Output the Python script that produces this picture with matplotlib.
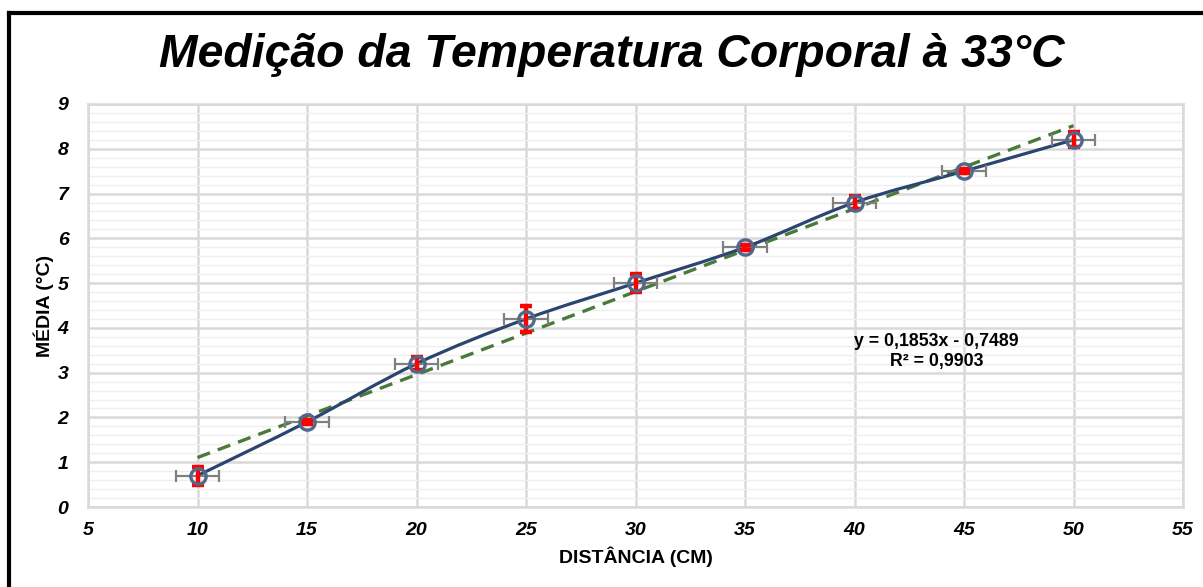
import matplotlib
matplotlib.use("Agg")
import matplotlib.pyplot as plt
import numpy as np
from matplotlib.path import Path
from matplotlib.patches import PathPatch
from matplotlib.lines import Line2D

# ---- data ----
distancia = [10, 15, 20, 25, 30, 35, 40, 45, 50]
media = [0.7, 1.9, 3.2, 4.2, 5.0, 5.8, 6.8, 7.5, 8.2]
erro_y = [0.2, 0.05, 0.15, 0.3, 0.2, 0.05, 0.15, 0.05, 0.17]
erro_x = [1, 1, 1, 1, 1, 1, 1, 1, 1]
trend_slope = 0.1853
trend_intercept = -0.7489
trend_text = "y = 0,1853x - 0,7489\nR² = 0,9903"
x_ticks = [5, 10, 15, 20, 25, 30, 35, 40, 45, 50, 55]
y_ticks = [0, 1, 2, 3, 4, 5, 6, 7, 8, 9]
titulo = "Medição da Temperatura Corporal à 33°C"
x_label = "DISTÂNCIA (CM)"
y_label = "MÉDIA (°C)"

plt.rcParams['font.family'] = ['Liberation Sans', 'DejaVu Sans']

fig = plt.figure(figsize=(12.03, 5.87), dpi=100)
W, H = 1203, 587
ax = fig.add_axes([88 / W, 1 - 507 / H, (1183 - 88) / W, (507 - 104) / H])

ax.set_xlim(5, 55)
ax.set_ylim(0, 9)
ax.set_xticks(x_ticks)
ax.set_yticks(y_ticks)
minor = [v for v in np.arange(0, 9.01, 0.2) if abs(v - round(v)) > 1e-6]
ax.set_yticks(minor, minor=True)
ax.grid(which='major', color='#d9d9d9', linewidth=1.8, zorder=0)
ax.grid(which='minor', axis='y', color='#efefef', linewidth=1.0, zorder=0)
ax.tick_params(which='both', length=0)
ax.tick_params(axis='x', pad=11)
ax.tick_params(axis='y', pad=14)
for lab in ax.get_xticklabels() + ax.get_yticklabels():
    lab.set_fontsize(14)
    lab.set_fontweight('bold')
    lab.set_fontstyle('italic')
for s in ax.spines.values():
    s.set_color('#d9d9d9')
    s.set_linewidth(1.8)

# trendline
xt = np.array([distancia[0], distancia[-1]], dtype=float)
ax.plot(xt, trend_slope * xt + trend_intercept, color='#4a7a3a', linestyle=(0, (4, 2.5)),
        linewidth=2.4, zorder=3)

# smoothed line (Excel style bezier)
P = np.column_stack([distancia, media]).astype(float)
n = len(P)
verts = [P[0]]
codes = [Path.MOVETO]
for i in range(n - 1):
    p0 = P[i - 1] if i > 0 else P[i]
    p1 = P[i]
    p2 = P[i + 1]
    p3 = P[i + 2] if i + 2 < n else P[i + 1]
    c1 = p1 + (p2 - p0) / 6.0
    c2 = p2 - (p3 - p1) / 6.0
    verts += [c1, c2, p2]
    codes += [Path.CURVE4] * 3
patch = PathPatch(Path(verts, codes), facecolor='none', edgecolor='#2c4470', linewidth=2.3, zorder=4)
ax.add_patch(patch)

# error bars
ax.errorbar(distancia, media, xerr=erro_x, fmt='none', ecolor='#808080', elinewidth=1.6,
            capsize=4.5, capthick=1.6, zorder=5)
ax.errorbar(distancia, media, yerr=erro_y, fmt='none', ecolor='#ff0000', elinewidth=3.2,
            capsize=4, capthick=3.2, zorder=6)
ax.plot(distancia, media, linestyle='none', marker='o', markersize=11, markerfacecolor='none',
        markeredgecolor='#52678c', markeredgewidth=2.4, zorder=7)

ax.set_xlabel(x_label, fontsize=14, fontweight='bold', labelpad=5)
ax.set_ylabel(y_label, fontsize=14, fontweight='bold', labelpad=3)

ax.text(43.75, 3.47, trend_text, ha='center', va='center', fontsize=12.8, fontweight='bold',
        linespacing=1.25, zorder=8)

fig.text(612 / W, 1 - 55 / H, titulo, ha='center', va='center', fontsize=33.4,
         fontweight='bold', fontstyle='italic')

# outer frame (left and top edges visible)
fig.add_artist(Line2D([9 / W, 9 / W], [0, 1 - 13 / H], color='black', linewidth=3,
                      transform=fig.transFigure))
fig.add_artist(Line2D([9 / W, 1], [1 - 13 / H, 1 - 13 / H], color='black', linewidth=3,
                      transform=fig.transFigure))

fig.savefig('out.png', dpi=100)
